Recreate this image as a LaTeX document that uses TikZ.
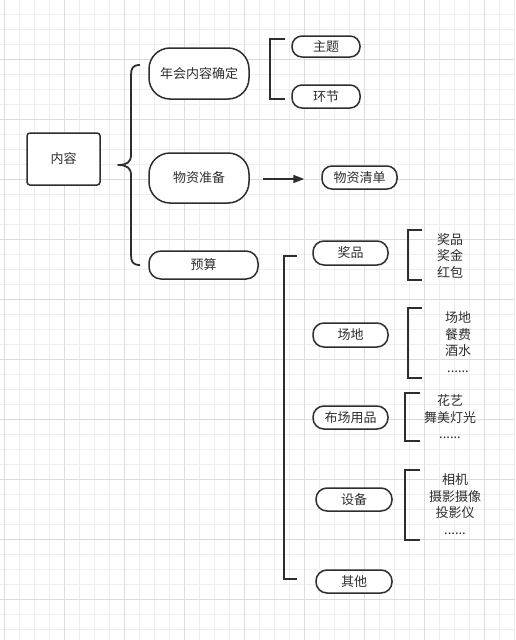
\documentclass[tikz,border=0pt]{standalone}
\usepackage{fontspec}
\setmainfont{Noto Sans CJK SC}
\usepackage{tikz}
\usepackage{xcolor}
\usetikzlibrary{calc}
\usetikzlibrary{arrows.meta}

\definecolor{inkc}{HTML}{2E2E2E}
\definecolor{gridminor}{HTML}{EEEEEE}
\definecolor{gridmajor}{HTML}{DCDCDC}

\tikzset{
  pill/.style={draw=inkc, line width=1.5pt, fill=white, text=inkc, inner sep=0pt},
  listtxt/.style={text=inkc, align=center, inner sep=0pt,
    font=\fontsize{13}{16.5}\selectfont},
  bracketline/.style={draw=inkc, line width=1.8pt},
}

\begin{document}
\begin{tikzpicture}[x=1pt, y=-1pt, font=\fontsize{13}{16}\selectfont]
\useasboundingbox (0,0) rectangle (515,640);
\fill[white] (0,0) rectangle (515,640);

\foreach \x in {4,19,...,514} \draw[gridminor, line width=0.8pt] (\x,0) -- (\x,640);
\foreach \y in {14,29,...,639} \draw[gridminor, line width=0.8pt] (0,\y) -- (515,\y);
\foreach \x in {4,64,...,514} \draw[gridmajor, line width=0.8pt] (\x,0) -- (\x,640);
\foreach \y in {59,119,...,639} \draw[gridmajor, line width=0.8pt] (0,\y) -- (515,\y);

\node[pill, rounded corners=3pt, minimum width=73, minimum height=52] (neirong) at (63.5,159) {内容};

\node[pill, rounded corners=21pt, minimum width=100, minimum height=51] (nhqd) at (199,73.5) {年会内容确定};
\node[pill, rounded corners=21pt, minimum width=100, minimum height=50] (wzzb) at (199,178) {物资准备};
\node[pill, rounded corners=12pt, minimum width=109, minimum height=28] (yusuan) at (203.5,265) {预算};

\node[pill, rounded corners=10pt, minimum width=68, minimum height=21] (zhuti) at (326,46.5) {主题};
\node[pill, rounded corners=10pt, minimum width=68, minimum height=23] (huanjie) at (326,96.5) {环节};
\node[pill, rounded corners=10pt, minimum width=75, minimum height=23] (wzqd) at (359.5,177.5) {物资清单};

\node[pill, rounded corners=11pt, minimum width=75, minimum height=24] (jiangpin) at (350.5,253) {奖品};
\node[pill, rounded corners=11pt, minimum width=75, minimum height=24] (changdi) at (350.5,335) {场地};
\node[pill, rounded corners=11pt, minimum width=75, minimum height=23] (bcyp) at (350.5,417.5) {布场用品};
\node[pill, rounded corners=11pt, minimum width=76, minimum height=23] (shebei) at (354,499.5) {设备};
\node[pill, rounded corners=11pt, minimum width=76, minimum height=23] (qita) at (354,581.5) {其他};

\node[listtxt] (jplist) at (450,255.5) {奖品\\奖金\\红包};
\node[listtxt] (cdlist) at (458,342) {场地\\餐费\\酒水\\......};
\node[listtxt] (bclist) at (450,417) {花艺\\舞美灯光\\......};
\node[listtxt] (sblist) at (455,504) {相机\\摄影摄像\\投影仪\\......};

\coordinate (braceTop) at (140,65);
\coordinate (braceTip) at (118,165);
\coordinate (braceBot) at (140,265);
\draw[bracketline, line join=round]
  (braceTop) .. controls (133,65) and (131,68) .. (131,75)
  -- (131,155) .. controls (131,162) and (127,165) .. (braceTip)
  .. controls (127,165) and (131,168) .. (131,175)
  -- (131,255) .. controls (131,262) and (133,265) .. (braceBot);

\draw[bracketline] (285,39) -- (270,39) -- (270,99) -- (285,99);
\draw[bracketline] (297,256) -- (284,256) -- (284,579) -- (297,579);
\draw[bracketline] (422,230) -- (408,230) -- (408,280) -- (422,280);
\draw[bracketline] (422,308) -- (408,308) -- (408,378) -- (422,378);
\draw[bracketline] (420,393) -- (405,393) -- (405,441) -- (420,441);
\draw[bracketline] (420,470) -- (405,470) -- (405,540) -- (420,540);

\coordinate (arrStart) at ($(wzzb.east)+(13,1)$);
\coordinate (arrEnd) at ($(wzqd.west)+(-17,1.5)$);
\draw[bracketline, -{Triangle[length=11pt,width=8pt]}] (arrStart) -- (arrEnd);
\end{tikzpicture}
\end{document}
